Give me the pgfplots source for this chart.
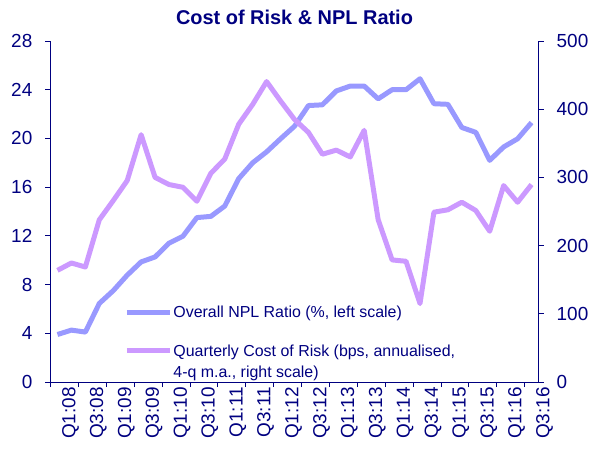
\documentclass[border=0pt]{standalone}
\usepackage{fontspec}
\setmainfont{Liberation Sans}
\usepackage{pgfplots}
\pgfplotsset{compat=1.18}

\definecolor{navy}{RGB}{0,0,128}
\definecolor{nplblue}{RGB}{153,153,255}
\definecolor{corpurple}{RGB}{204,153,255}

\pgfplotsset{
  chartbase/.style={
    scale only axis,
    width=488bp, height=341bp,
    at={(50.5bp,70bp)}, anchor=south west,
    xmin=-0.5, xmax=34.5,
    tick align=outside,
    major tick length=5bp,
    axis line style={navy, line width=0.8bp},
    tick style={navy, line width=0.8bp},
    ticklabel style={font=\fontsize{19}{22}\selectfont, text=navy},
    /pgf/number format/assume math mode=true,
  },
}

\begin{document}
\begin{tikzpicture}
\useasboundingbox (0,0) rectangle (590bp,452bp);

% left scale: NPL ratio
\begin{axis}[
  chartbase,
  axis x line*=bottom,
  axis y line*=left,
  ymin=0, ymax=28,
  ytick={0,4,...,28},
  yticklabel style={inner sep=0pt, xshift=-13bp},
  xtick={-0.5,1.5,...,33.5},
  xticklabels={},
  xticklabel style={rotate=90, anchor=east, inner sep=0pt, yshift=-13bp},
  extra x ticks={0,2,...,34},
  extra x tick labels={Q1:08,Q3:08,Q1:09,Q3:09,Q1:10,Q3:10,Q1:11,Q3:11,Q1:12,
               Q3:12,Q1:13,Q3:13,Q1:14,Q3:14,Q1:15,Q3:15,Q1:16,Q3:16},
  extra x tick style={tick style={draw=none}},
  title={Cost of Risk \& NPL Ratio},
  title style={font=\bfseries\fontsize{20}{24}\selectfont, text=navy,
               at={(0.5,1)}, anchor=base, yshift=11bp},
]
\addplot[nplblue, line width=5bp, line join=round] coordinates {
  (0,3.9) (1,4.26) (2,4.1) (3,6.45) (4,7.5) (5,8.77) (6,9.86) (7,10.27)
  (8,11.4) (9,11.97) (10,13.5) (11,13.6) (12,14.45) (13,16.7) (14,18.0)
  (15,18.9) (16,19.97) (17,21.0) (18,22.7) (19,22.76) (20,23.9) (21,24.3)
  (22,24.3) (23,23.25) (24,24.0) (25,24.0) (26,24.9) (27,22.85) (28,22.8)
  (29,20.9) (30,20.5) (31,18.2) (32,19.3) (33,19.97) (34,21.3)
};
\end{axis}

% right scale: cost of risk
\begin{axis}[
  chartbase,
  hide x axis,
  axis y line*=right,
  ymin=0, ymax=500,
  ytick={0,100,...,500},
  yticklabel style={inner sep=0pt, xshift=13bp},
  legend style={draw=none, fill=none,
    font=\fontsize{16}{21}\selectfont, text=navy,
    at={(axis description cs:0.151,0.226)}, anchor=north west,
    inner sep=0pt, row sep=21bp,
    nodes={inner sep=1bp}},
  legend cell align=left,
  legend image code/.code={\draw[#1] (0bp,0bp) -- (43bp,0bp);},
]
\addlegendimage{nplblue, line width=5bp}
\addlegendentry{Overall NPL Ratio (\%, left scale)}
\addplot[corpurple, line width=5bp, line join=round] coordinates {
  (0,163.7) (1,174.5) (2,168.6) (3,237.8) (4,266) (5,295.3) (6,362.6)
  (7,300) (8,289.5) (9,285.5) (10,265) (11,306) (12,327) (13,378)
  (14,407) (15,440.5) (16,412) (17,385) (18,366) (19,334) (20,340)
  (21,330) (22,369) (23,238) (24,179) (25,177) (26,115) (27,249)
  (28,252.5) (29,263.6) (30,251.5) (31,221) (32,288) (33,263.6) (34,289.5)
};
\addlegendentry{\begin{tabular}[t]{@{}l@{}}Quarterly Cost of Risk (bps, annualised,\\4-q m.a., right scale)\end{tabular}}
\end{axis}
\end{tikzpicture}
\end{document}
